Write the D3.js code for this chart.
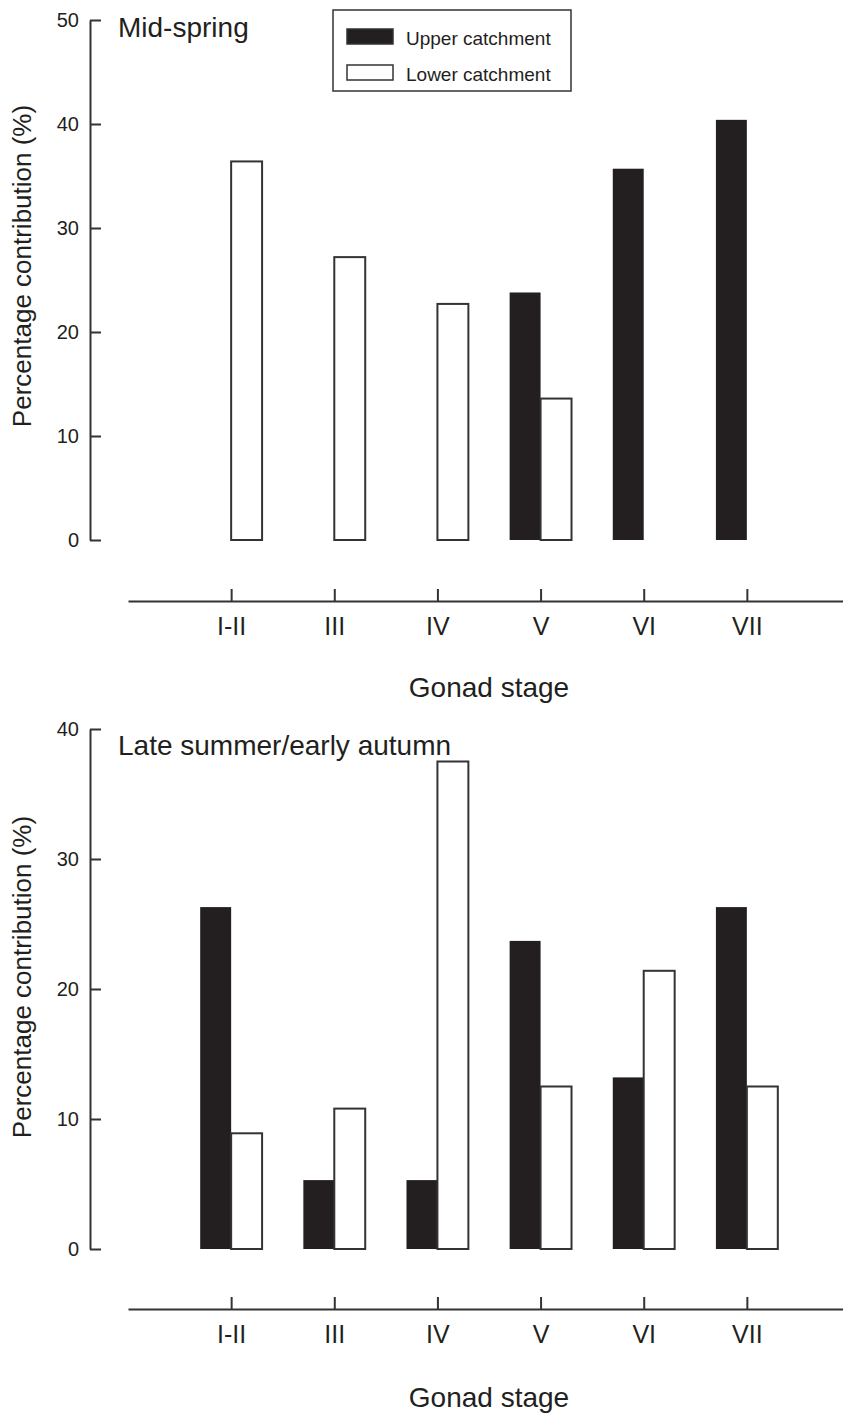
<html>
<script src="https://d3js.org/d3.v7.min.js"></script>
<style>
body { margin: 0; background: #fff; }
text { font-family: Arial, "Liberation Sans", sans-serif; fill: #231f20; }
.axis path, .axis line { stroke: #333; stroke-width: 2; }
</style>
<body onload="init()">
<svg width="843" height="1414"></svg>
<script>
var stages = ["I-II", "III", "IV", "V", "VI", "VII"];
var seriesNames = ["Upper catchment", "Lower catchment"];
var springUpper = [0, 0, 0, 23.8, 35.7, 40.4];
var springLower = [36.4, 27.2, 22.7, 13.6, 0, 0];
var summerUpper = [26.3, 5.3, 5.3, 23.7, 13.2, 26.3];
var summerLower = [8.9, 10.8, 37.5, 12.5, 21.4, 12.5];
var springTicks = [0, 10, 20, 30, 40, 50];
var summerTicks = [0, 10, 20, 30, 40];

function init() {
  var svg = d3.select("svg");
  var x = d3.scaleLinear().domain([0, 7]).range([128, 850]);
  var bw = x(0.3) - x(0);

  function panel(title, upper, lower, yMax, ticks, yTop, yZero, xAxisY, titleY, ylabY, xlabY) {
    var y = d3.scaleLinear().domain([0, yMax]).range([yZero, yTop]);
    var g = svg.append("g");

    g.append("g").attr("class", "axis")
      .attr("transform", "translate(90,0)")
      .call(d3.axisLeft(y).tickValues(ticks).tickSize(-11).tickSizeOuter(0).tickPadding(11))
      .selectAll("text").style("font-size", "20px").style("font-family", "Arial");

    g.append("g").attr("class", "axis")
      .attr("transform", "translate(0," + xAxisY + ")")
      .call(d3.axisBottom(x).tickValues([1, 2, 3, 4, 5, 6])
        .tickFormat(function(d) { return stages[d - 1]; })
        .tickSize(-12).tickSizeOuter(0).tickPadding(16))
      .selectAll("text").style("font-size", "25px").style("font-family", "Arial");

    g.selectAll(".axis text").style("fill", "#231f20");

    var ups = upper.map(function(v, i) { return {v: v, i: i}; }).filter(function(d) { return d.v > 0; });
    var lows = lower.map(function(v, i) { return {v: v, i: i}; }).filter(function(d) { return d.v > 0; });

    g.selectAll(".up").data(ups).enter().append("rect")
      .attr("x", function(d) { return x(d.i + 1) - bw; })
      .attr("y", function(d) { return y(d.v); })
      .attr("width", bw)
      .attr("height", function(d) { return y(0) - y(d.v); })
      .attr("fill", "#231f20");

    g.selectAll(".low").data(lows).enter().append("rect")
      .attr("x", function(d) { return x(d.i + 1); })
      .attr("y", function(d) { return y(d.v); })
      .attr("width", bw)
      .attr("height", function(d) { return y(0) - y(d.v); })
      .attr("fill", "#fff")
      .attr("stroke", "#333")
      .attr("stroke-width", 2);

    g.append("text").attr("x", 118).attr("y", titleY)
      .style("font-size", "28px").text(title);

    g.append("text")
      .attr("transform", "translate(31," + ylabY + ") rotate(-90)")
      .attr("text-anchor", "middle")
      .style("font-size", "26px")
      .text("Percentage contribution (%)");

    g.append("text").attr("x", 489).attr("y", xlabY)
      .attr("text-anchor", "middle")
      .style("font-size", "28px").text("Gonad stage");
  }

  panel("Mid-spring", springUpper, springLower, 50, springTicks, 20, 540, 601, 37, 266, 697);
  panel("Late summer/early autumn", summerUpper, summerLower, 40, summerTicks, 729, 1249, 1309, 755, 977, 1407);

  // legend
  var lg = svg.append("g");
  lg.append("rect").attr("x", 333).attr("y", 10).attr("width", 238).attr("height", 81)
    .attr("fill", "none").attr("stroke", "#333").attr("stroke-width", 1.5);
  seriesNames.forEach(function(name, i) {
    lg.append("rect").attr("x", 347).attr("y", 29 + i * 36).attr("width", 46).attr("height", 15)
      .attr("fill", i === 0 ? "#231f20" : "#fff")
      .attr("stroke", "#333").attr("stroke-width", 1.5);
    lg.append("text").attr("x", 406).attr("y", 45 + i * 36)
      .style("font-size", "19px").text(name);
  });
}
</script>
</body>
</html>
